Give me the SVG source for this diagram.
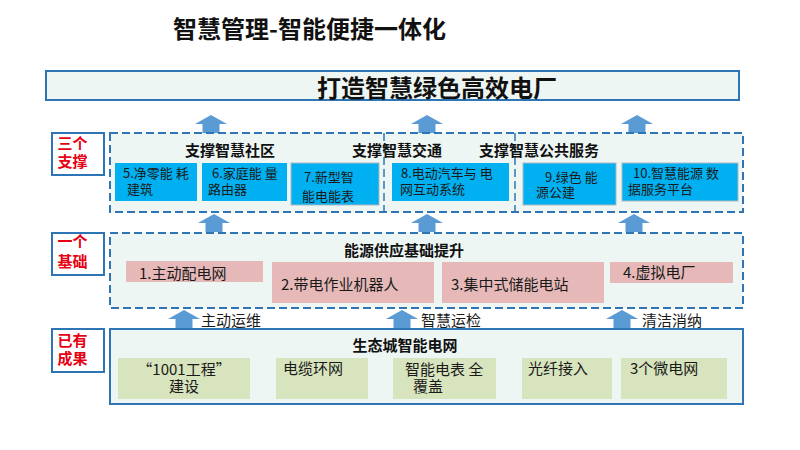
<svg xmlns="http://www.w3.org/2000/svg" width="800" height="450" viewBox="0 0 800 450">
<style>
text{font-family:"Noto Sans CJK SC","Noto Sans",sans-serif;dominant-baseline:central;fill:#1a1a1a}
.t24{font-size:24px;font-weight:bold;fill:#111}
.h{font-size:15px;font-weight:bold;fill:#111}
.s13{font-size:13px}
.s15{font-size:15px}
.red{font-size:15px;font-weight:bold;fill:#e60012;text-anchor:middle}
.mid{text-anchor:middle}
.lab{fill:#fff;stroke:#2e75b6;stroke-width:2}
.dash{fill:#eef6f4;stroke:#2e75b6;stroke-width:2;stroke-dasharray:8 4}
.div{fill:none;stroke:#2e75b6;stroke-width:1.5;stroke-dasharray:8 4}
.solid{fill:#eef6f4;stroke:#2e75b6;stroke-width:2}
.blue{fill:#00b0f0}
.blueg{fill:#00b0f0;stroke:#b0b8bf;stroke-width:1}
.pink{fill:#e6b9b8}
.green{fill:#d7e4bd}
.arr{fill:#5b9bd5}
</style>
<defs>
<path id="ua" d="M0,-9 L16,0 L8.5,0 L8.5,9 L-8.5,9 L-8.5,0 L-16,0 Z"/>
</defs>

<g id="title"><text class="t24" x="173" y="27">智慧管理-智能便捷一体化</text></g>

<g id="goal">
<rect x="46" y="71" width="693" height="29" class="solid"/>
<text class="t24" x="317" y="86">打造智慧绿色高效电厂</text>
</g>

<g id="connectors">
<use href="#ua" class="arr" x="211" y="124"/>
<use href="#ua" class="arr" x="427" y="124"/>
<use href="#ua" class="arr" x="637" y="124"/>
<use href="#ua" class="arr" x="214" y="223"/>
<use href="#ua" class="arr" x="427" y="223"/>
<use href="#ua" class="arr" x="634" y="223"/>
<use href="#ua" class="arr" x="184" y="319"/>
<use href="#ua" class="arr" x="402" y="319"/>
<use href="#ua" class="arr" x="622" y="319"/>
<text class="s15" x="201" y="319">主动运维</text>
<text class="s15" x="421" y="319">智慧运检</text>
<text class="s15" x="642" y="319">清洁消纳</text>
</g>

<g id="label-support">
<rect x="52" y="133" width="52" height="42" class="lab"/>
<text class="red" y="142"><tspan x="72.5">三个</tspan><tspan x="72.5" dy="18">支撑</tspan></text>
</g>
<g id="label-base">
<rect x="52" y="233" width="52" height="42" class="lab"/>
<text class="red" y="240"><tspan x="72.5">一个</tspan><tspan x="72.5" dy="20">基础</tspan></text>
</g>
<g id="label-result">
<rect x="52" y="329" width="52" height="43" class="lab"/>
<text class="red" y="339"><tspan x="72.5">已有</tspan><tspan x="72.5" dy="18">成果</tspan></text>
</g>

<g id="support">
<rect x="110" y="133" width="633" height="79" class="dash"/>
<line x1="384" y1="133" x2="384" y2="212" class="div"/>
<line x1="515" y1="133" x2="515" y2="212" class="div"/>
<text class="h mid" x="230" y="149">支撑智慧社区</text>
<text class="h mid" x="397" y="149">支撑智慧交通</text>
<text class="h mid" x="539" y="149">支撑智慧公共服务</text>
</g>
<g id="n5"><rect x="115" y="163" width="82" height="38" class="blue"/>
<text class="s13" y="172"><tspan x="123">5.净零能 耗</tspan><tspan x="127" dy="16">建筑</tspan></text></g>
<g id="n6"><rect x="202" y="163" width="85" height="38" class="blue"/>
<text class="s13" y="172"><tspan x="212">6.家庭能 量</tspan><tspan x="208" dy="16">路由器</tspan></text></g>
<g id="n7"><rect x="291" y="163" width="88" height="42" class="blueg"/>
<text class="s13" y="176"><tspan x="304">7.新型智</tspan><tspan x="302" dy="19">能电能表</tspan></text></g>
<g id="n8"><rect x="392" y="163" width="117" height="38" class="blue"/>
<text class="s13" y="172"><tspan x="401">8.电动汽车与 电</tspan><tspan x="400" dy="16">网互动系统</tspan></text></g>
<g id="n9"><rect x="523" y="163" width="93" height="42" class="blueg"/>
<text class="s13" y="176"><tspan x="545">9.绿色 能</tspan><tspan x="536" dy="15">源公建</tspan></text></g>
<g id="n10"><rect x="622" y="163" width="116" height="38" class="blueg"/>
<text class="s13" y="172"><tspan x="633">10.智慧能源 数</tspan><tspan x="628" dy="16">据服务平台</tspan></text></g>

<g id="base">
<rect x="110" y="233" width="633" height="75" class="dash"/>
<text class="h mid" x="404" y="249">能源供应基础提升</text>
</g>
<g id="n1"><rect x="126" y="261" width="137" height="21" class="pink"/>
<text class="s15" x="139" y="272">1.主动配电网</text></g>
<g id="n2"><rect x="272" y="262" width="162" height="41" class="pink"/>
<text class="s15" x="281" y="283">2.带电作业机器人</text></g>
<g id="n3"><rect x="442" y="262" width="162" height="41" class="pink"/>
<text class="s15" x="451" y="283">3.集中式储能电站</text></g>
<g id="n4"><rect x="610" y="262" width="123" height="21" class="pink"/>
<text class="s15" x="623" y="271">4.虚拟电厂</text></g>

<g id="result">
<rect x="110" y="329" width="633" height="75" class="solid"/>
<text class="h mid" x="405" y="344">生态城智能电网</text>
</g>
<g id="r1"><rect x="118" y="358" width="132" height="41" class="green"/>
<text class="s15 mid" y="368"><tspan x="184">“1001工程”</tspan><tspan x="184" dy="17">建设</tspan></text></g>
<g id="r2"><rect x="276" y="358" width="92" height="41" class="green"/>
<text class="s15" x="283" y="367">电缆环网</text></g>
<g id="r3"><rect x="393" y="358" width="103" height="41" class="green"/>
<text class="s15" y="368"><tspan x="405">智能电表 全</tspan><tspan x="413" dy="17">覆盖</tspan></text></g>
<g id="r4"><rect x="522" y="358" width="90" height="41" class="green"/>
<text class="s15" x="528" y="367">光纤接入</text></g>
<g id="r5"><rect x="621" y="358" width="106" height="41" class="green"/>
<text class="s15" x="630" y="367">3个微电网</text></g>
</svg>
